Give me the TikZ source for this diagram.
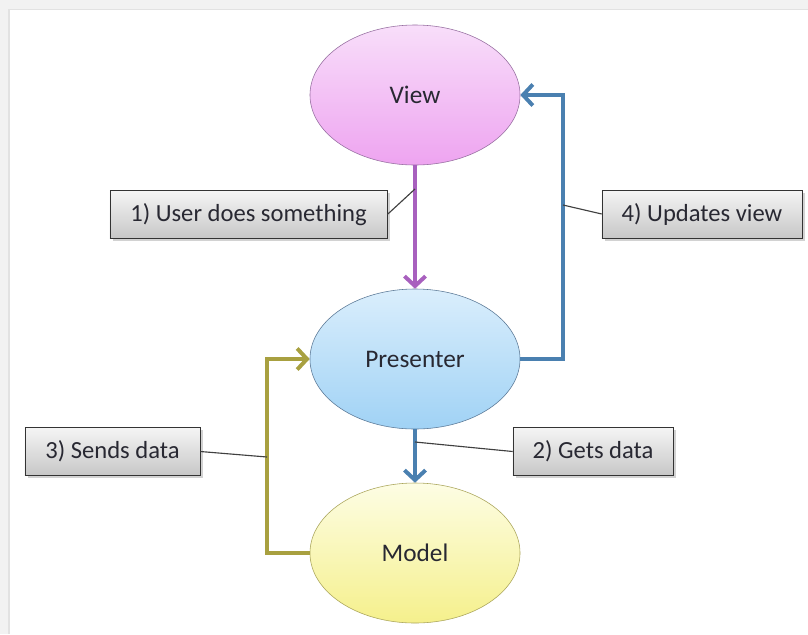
\documentclass[tikz,border=0pt]{standalone}
\usepackage{fontspec}
\setmainfont{Carlito}
\usepackage{tikz}
\usetikzlibrary{shapes.geometric}
\usetikzlibrary{shadows}
\usetikzlibrary{arrows.meta}
\usepackage{color}
\definecolor{orchidline}{RGB}{168, 96, 190}
\definecolor{steelline}{RGB}{74, 128, 176}
\definecolor{mustardline}{RGB}{168, 160, 64}
\definecolor{viewtop}{RGB}{248, 222, 250}
\definecolor{viewbottom}{RGB}{238, 164, 240}
\definecolor{viewedge}{RGB}{150, 110, 160}
\definecolor{prestop}{RGB}{218, 238, 252}
\definecolor{presbottom}{RGB}{160, 210, 245}
\definecolor{presedge}{RGB}{90, 120, 150}
\definecolor{modeltop}{RGB}{253, 253, 228}
\definecolor{modelbottom}{RGB}{245, 240, 140}
\definecolor{modeledge}{RGB}{170, 165, 90}
\definecolor{inkgray}{RGB}{40, 40, 50}
\definecolor{framegray}{RGB}{242, 242, 242}
\definecolor{frameedge}{RGB}{226, 226, 226}

\tikzset{
    bubble/.style={ellipse, draw, minimum width=5.25cm, minimum height=3.5cm, inner sep=0pt,
                   text=inkgray, font=\fontsize{18}{22}\selectfont},
    note/.style={rectangle, draw=black!80, top color=white!96!black, bottom color=black!22,
                 minimum height=1.2cm, inner sep=0pt, text=inkgray, font=\fontsize{17.5}{21}\selectfont,
                 drop shadow={shadow xshift=2pt, shadow yshift=-2pt, opacity=0.35}},
    flow/.style={line width=2.8pt, -{Straight Barb[length=7pt, width=15pt]}},
    leader/.style={draw=black!75, line width=0.8pt}
}

\begin{document}
\begin{tikzpicture}[x=0.025cm, y=-0.025cm]
            % Frame
            \useasboundingbox (0, 0) rectangle (808, 634);
            \fill[framegray]                         (0, 0) rectangle (808, 634);
            \fill[white]                             (9, 10) rectangle (808, 634);
            \draw[frameedge, line width=1pt]         (9, 634) -- (9, 9.5) -- (808, 9.5);
            % Ellipses
            \node[bubble, draw=viewedge,  top color=viewtop,  bottom color=viewbottom]  (view)      at (415,  95) {View};
            \node[bubble, draw=presedge,  top color=prestop,  bottom color=presbottom]  (presenter) at (415, 359) {Presenter};
            \node[bubble, draw=modeledge, top color=modeltop, bottom color=modelbottom] (model)     at (415, 553) {Model};
            % Arrows
            \draw[flow, orchidline]  (view.south)      -- (presenter.north);
            \draw[flow, steelline]   (presenter.south) -- (model.north);
            \draw[flow, steelline]   (presenter.east)  -- ++( 43, 0) |- (view.east);
            \draw[flow, mustardline] (model.west)      -- ++(-43, 0) |- (presenter.west);
            % Taps on the arrows
            \coordinate (tapuser)    at (415, 189);
            \coordinate (tapupdate)  at (563, 205);
            \coordinate (tapsend)    at (267, 457);
            \coordinate (tapget)     at (415, 442);
            % Step labels
            \node[note, minimum width=6.925cm] (userdoes) at (248.5, 214.5) {1) User does something};
            \node[note, minimum width=5cm]     (updates)  at (702, 214)     {4) Updates view};
            \node[note, minimum width=4.375cm] (sends)    at (112.5, 451.5) {3) Sends data};
            \node[note, minimum width=4cm]     (gets)     at (593, 451.5)   {2) Gets data};
            % Leaders
            \draw[leader] (userdoes.east) -- (tapuser);
            \draw[leader] (updates.west)  -- (tapupdate);
            \draw[leader] (sends.east)    -- (tapsend);
            \draw[leader] (gets.west)     -- (tapget);
\end{tikzpicture}
\end{document}
